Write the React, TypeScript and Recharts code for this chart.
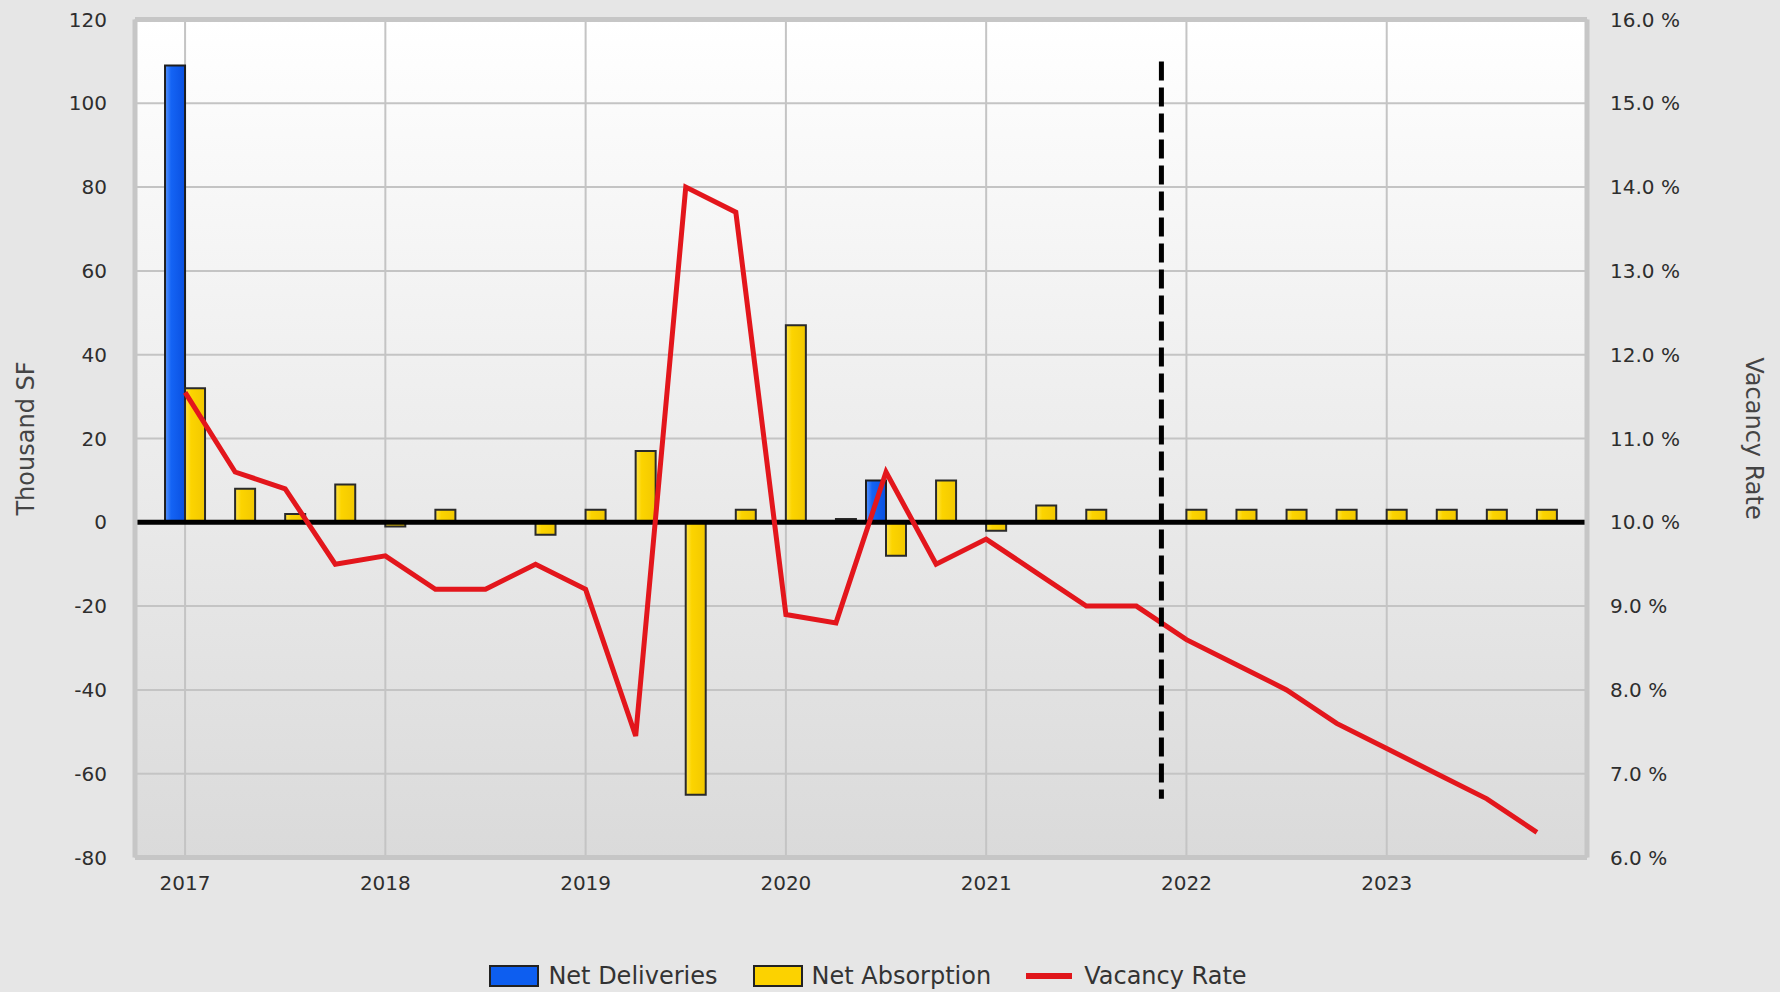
import { ComposedChart, Bar, Line, XAxis, YAxis, CartesianGrid, ReferenceLine, Legend } from 'recharts';

// quarterly series, 2017 Q1 .. 2023 Q4
const QUARTERS = [
  '2017 Q1', '2017 Q2', '2017 Q3', '2017 Q4',
  '2018 Q1', '2018 Q2', '2018 Q3', '2018 Q4',
  '2019 Q1', '2019 Q2', '2019 Q3', '2019 Q4',
  '2020 Q1', '2020 Q2', '2020 Q3', '2020 Q4',
  '2021 Q1', '2021 Q2', '2021 Q3', '2021 Q4',
  '2022 Q1', '2022 Q2', '2022 Q3', '2022 Q4',
  '2023 Q1', '2023 Q2', '2023 Q3', '2023 Q4',
];

// thousand SF
const NET_DELIVERIES = [
  109, null, null, null,
  null, null, null, null,
  null, null, null, null,
  null, null, 10, null,
  null, null, null, null,
  null, null, null, null,
  null, null, null, null,
];

const NET_ABSORPTION = [
  32, 8, 2, 9,
  -1, 3, null, -3,
  3, 17, -65, 3,
  47, 0.8, -8, 10,
  -2, 4, 3, null,
  3, 3, 3, 3,
  3, 3, 3, 3,
];

// percent
const VACANCY_RATE = [
  11.55, 10.6, 10.4, 9.5,
  9.6, 9.2, 9.2, 9.5,
  9.2, 7.45, 14.0, 13.7,
  8.9, 8.8, 10.6, 9.5,
  9.8, 9.4, 9.0, 9.0,
  8.6, 8.3, 8.0, 7.6,
  7.3, 7.0, 6.7, 6.3,
];

const LEFT_TICKS = [-80, -60, -40, -20, 0, 20, 40, 60, 80, 100, 120];
const RIGHT_TICKS = [6, 7, 8, 9, 10, 11, 12, 13, 14, 15, 16];
const YEAR_TICKS = [0, 4, 8, 12, 16, 20, 24];
const FORECAST_START = 19.5; // between 2021 Q4 and 2022 Q1

const data = QUARTERS.map((q, i) => ({
  idx: i,
  quarter: q,
  deliveries: NET_DELIVERIES[i],
  absorption: NET_ABSORPTION[i],
  vacancy: VACANCY_RATE[i],
}));

const FONT = '"DejaVu Sans", Verdana, sans-serif';
const TICK = { fontFamily: FONT, fontSize: 20, fill: '#2e2e2e' };

const AxisTitle = ({ viewBox, side }: any) => {
  const vb = viewBox || { x: 0, y: 0, width: 0, height: 0 };
  const cx = side === 'left' ? vb.x + 26 : vb.x + 167;
  const cy = vb.y + vb.height / 2;
  return (
    <text
      x={cx}
      y={cy}
      transform={`rotate(${side === 'left' ? -90 : 90} ${cx} ${cy})`}
      textAnchor="middle"
      dominantBaseline="central"
      fontFamily={FONT}
      fontSize={24}
      fill="#444"
    >
      {side === 'left' ? 'Thousand SF' : 'Vacancy Rate'}
    </text>
  );
};

const LegendBox = ({ color, label }: { color: string; label: string }) => (
  <div style={{ display: 'flex', alignItems: 'center', marginRight: 35 }}>
    <span style={{ width: 46, height: 18, background: color, border: '2px solid #222', marginRight: 9 }} />
    <span>{label}</span>
  </div>
);

const ChartLegend = () => (
  <div
    style={{
      display: 'flex',
      justifyContent: 'center',
      alignItems: 'center',
      height: 32,
      paddingRight: 44,
      fontFamily: FONT,
      fontSize: 24,
      color: '#333',
    }}
  >
    <LegendBox color="#0d5ef0" label="Net Deliveries" />
    <LegendBox color="#fcd200" label="Net Absorption" />
    <div style={{ display: 'flex', alignItems: 'center' }}>
      <span style={{ width: 46, height: 6, background: '#e0161b', marginRight: 12 }} />
      <span>Vacancy Rate</span>
    </div>
  </div>
);

export default function App() {
  return (
    <div style={{ position: 'absolute', left: 0, top: 0, width: 1780, height: 992, background: '#e6e6e6' }}>
      <svg style={{ position: 'absolute', width: 0, height: 0 }}>
        <defs>
          <linearGradient id="plotBg" x1="0" y1="0" x2="0" y2="1">
            <stop offset="0%" stopColor="#ffffff" />
            <stop offset="100%" stopColor="#dadada" />
          </linearGradient>
          <linearGradient id="blueBar" x1="0" y1="0" x2="1" y2="0">
            <stop offset="0%" stopColor="#5a96ff" />
            <stop offset="30%" stopColor="#1464f5" />
            <stop offset="100%" stopColor="#0a50e0" />
          </linearGradient>
          <linearGradient id="yellowBar" x1="0" y1="0" x2="1" y2="0">
            <stop offset="0%" stopColor="#ffe54d" />
            <stop offset="30%" stopColor="#fcd400" />
            <stop offset="100%" stopColor="#f2c800" />
          </linearGradient>
        </defs>
      </svg>
      <ComposedChart
        width={1780}
        height={992}
        data={data}
        margin={{ top: 19.5, right: 0, bottom: 0, left: 0 }}
        barGap={0}
      >
        <CartesianGrid yAxisId="left" stroke="#c4c4c4" strokeWidth={2} fill="url(#plotBg)" fillOpacity={1} />
        <XAxis
          type="number"
          dataKey="idx"
          domain={[-1, 28]}
          ticks={YEAR_TICKS}
          interval={0}
          tickFormatter={(v: number) => QUARTERS[v]?.slice(0, 4) ?? ''}
          axisLine={false}
          tickLine={false}
          tickSize={6}
          tickMargin={12}
          height={102.5}
          tick={TICK}
        />
        <YAxis
          yAxisId="left"
          domain={[-80, 120]}
          ticks={LEFT_TICKS}
          interval={0}
          width={135}
          axisLine={false}
          tickLine={false}
          tickSize={6}
          tickMargin={22}
          tick={TICK}
          label={<AxisTitle side="left" />}
        />
        <YAxis
          yAxisId="right"
          orientation="right"
          domain={[6, 16]}
          ticks={RIGHT_TICKS}
          interval={0}
          width={193}
          axisLine={false}
          tickLine={false}
          tickSize={6}
          tickMargin={17}
          tick={{ ...TICK, textAnchor: 'start' }}
          tickFormatter={(v: number) => `${v.toFixed(1)} %`}
          label={<AxisTitle side="right" />}
        />
        <Legend verticalAlign="bottom" content={<ChartLegend />} />
        <Bar
          yAxisId="left"
          dataKey="deliveries"
          name="Net Deliveries"
          barSize={20}
          fill="url(#blueBar)"
          stroke="#1e1e1e"
          strokeWidth={2}
          isAnimationActive={false}
        />
        <Bar
          yAxisId="left"
          dataKey="absorption"
          name="Net Absorption"
          barSize={20}
          fill="url(#yellowBar)"
          stroke="#2a2a2a"
          strokeWidth={2}
          isAnimationActive={false}
        />
        <ReferenceLine yAxisId="left" y={0} stroke="#000" strokeWidth={5} />
        <Line
          yAxisId="right"
          type="linear"
          dataKey="vacancy"
          name="Vacancy Rate"
          stroke="#e3161c"
          strokeWidth={5}
          dot={false}
          isAnimationActive={false}
        />
        <ReferenceLine
          yAxisId="left"
          segment={[{ x: FORECAST_START, y: 110 }, { x: FORECAST_START, y: -66 }]}
          stroke="#000"
          strokeWidth={5}
          strokeDasharray="19 7"
        />
        <ReferenceLine yAxisId="left" x={-1} stroke="#c6c6c6" strokeWidth={5} />
        <ReferenceLine yAxisId="left" x={28} stroke="#c6c6c6" strokeWidth={5} />
        <ReferenceLine yAxisId="left" y={120} stroke="#c6c6c6" strokeWidth={5} />
        <ReferenceLine yAxisId="left" y={-80} stroke="#c6c6c6" strokeWidth={5} />
      </ComposedChart>
    </div>
  );
}
